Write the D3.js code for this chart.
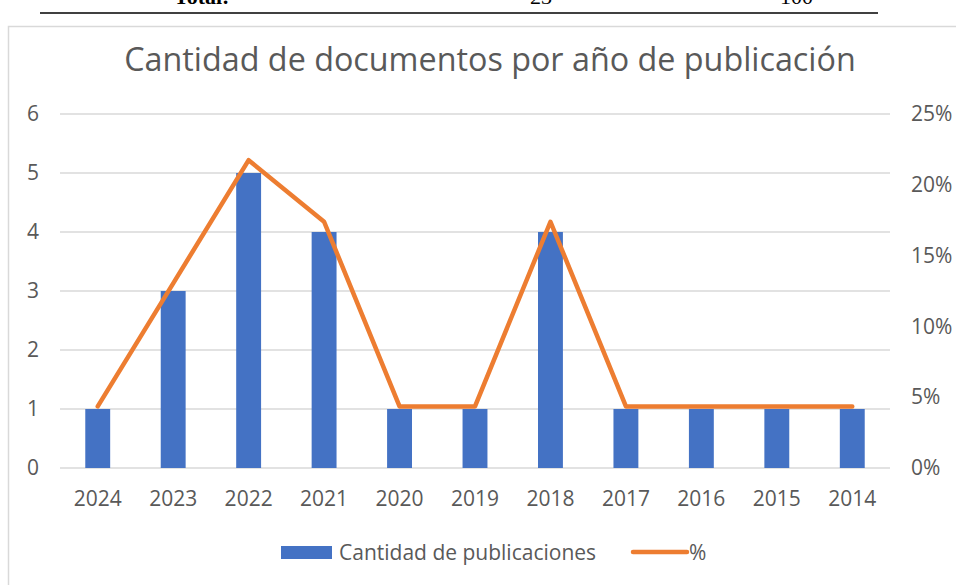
<!DOCTYPE html>
<html lang="es">
<head>
<meta charset="UTF-8">
<script src="https://cdnjs.cloudflare.com/ajax/libs/d3/7.8.5/d3.min.js"></script>
<style>
  body { margin: 0; background: #fff; }
  svg { display: block; }
</style>
</head>
<body>
<script>
// datos
var years = ['2024', '2023', '2022', '2021', '2020', '2019', '2018', '2017', '2016', '2015', '2014'];
var counts = [1, 3, 5, 4, 1, 1, 4, 1, 1, 1, 1];
var percents = [4.35, 13.04, 21.74, 17.39, 4.35, 4.35, 17.39, 4.35, 4.35, 4.35, 4.35];
var leftTicks = [0, 1, 2, 3, 4, 5, 6];
var rightTicks = [0, 5, 10, 15, 20, 25];

(function () {
    var W = 956, H = 585;
    var font = '"Open Sans", "Noto Sans", sans-serif';
    var grey = '#595959';
    var fs = 21;

    var svg = d3.select('body').append('svg')
        .attr('width', W)
        .attr('height', H);

    // resto de la tabla de arriba (cortada)
    var serif = '"Liberation Serif", serif';
    svg.append('text')
        .attr('x', 174).attr('y', 4)
        .attr('font-family', serif)
        .attr('font-weight', 'bold')
        .attr('font-size', 22)
        .text('Total:');
    svg.append('text')
        .attr('x', 530).attr('y', 4)
        .attr('font-family', serif)
        .attr('font-size', 22)
        .text('23');
    svg.append('text')
        .attr('x', 780).attr('y', 4)
        .attr('font-family', serif)
        .attr('font-size', 22)
        .text('100');
    svg.append('line')
        .attr('x1', 40).attr('x2', 878)
        .attr('y1', 13).attr('y2', 13)
        .attr('stroke', '#000').attr('stroke-width', 1.3);

    // marco del grafico
    svg.append('rect')
        .attr('x', 8.5).attr('y', 26.5)
        .attr('width', W).attr('height', H)
        .attr('fill', '#fff')
        .attr('stroke', '#d9d9d9').attr('stroke-width', 1.5);

    svg.append('text')
        .attr('x', 490).attr('y', 71)
        .attr('text-anchor', 'middle')
        .attr('font-family', font)
        .attr('font-size', 32.3)
        .attr('fill', grey)
        .text('Cantidad de documentos por año de publicación');

    var mLeft = 60, mRight = 890, mTop = 114, mBottom = 468;

    var x = d3.scaleBand()
        .domain(years)
        .range([mLeft, mRight])
        .paddingInner(0.67)
        .paddingOuter(0.335);

    var band = d3.scaleBand().domain(years).range([mLeft, mRight]);

    var y = d3.scaleLinear().domain([0, 6]).range([mBottom, mTop]);
    var y2 = d3.scaleLinear().domain([0, 25]).range([mBottom, mTop]);

    // lineas de cuadricula
    svg.append('g')
        .selectAll('line')
        .data(leftTicks)
        .enter().append('line')
        .attr('x1', mLeft).attr('x2', mRight)
        .attr('y1', function (d) { return y(d); })
        .attr('y2', function (d) { return y(d); })
        .attr('stroke', '#d9d9d9')
        .attr('stroke-width', 1.5);

    // eje izquierdo
    var yAxis = svg.append('g')
        .attr('transform', 'translate(' + (mLeft - 21) + ',0)')
        .call(d3.axisLeft(y).tickValues(leftTicks).tickSize(0).tickPadding(0)
            .tickFormat(d3.format('d')));
    yAxis.select('.domain').remove();
    yAxis.selectAll('text')
        .attr('font-family', font).attr('font-size', fs).attr('fill', grey);

    // eje derecho
    var y2Axis = svg.append('g')
        .attr('transform', 'translate(' + (mRight + 21) + ',0)')
        .call(d3.axisRight(y2).tickValues(rightTicks).tickSize(0).tickPadding(0)
            .tickFormat(function (d) { return d + '%'; }));
    y2Axis.select('.domain').remove();
    y2Axis.selectAll('text')
        .attr('font-family', font).attr('font-size', fs).attr('fill', grey);

    // eje x
    var xAxis = svg.append('g')
        .attr('transform', 'translate(0,' + mBottom + ')')
        .call(d3.axisBottom(band).tickSize(0).tickPadding(23));
    xAxis.select('.domain').remove();
    xAxis.selectAll('text')
        .attr('font-family', font).attr('font-size', fs).attr('fill', grey);

    // barras
    svg.append('g')
        .selectAll('rect')
        .data(counts)
        .enter().append('rect')
        .attr('x', function (d, i) { return x(years[i]); })
        .attr('y', function (d) { return y(d); })
        .attr('width', x.bandwidth())
        .attr('height', function (d) { return mBottom - y(d); })
        .attr('fill', '#4472c4');

    // linea de porcentaje
    var line = d3.line()
        .x(function (d, i) { return band(years[i]) + band.bandwidth() / 2; })
        .y(function (d) { return y2(d); });

    svg.append('path')
        .datum(percents)
        .attr('d', line)
        .attr('fill', 'none')
        .attr('stroke', '#ed7d31')
        .attr('stroke-width', 4.5)
        .attr('stroke-linejoin', 'round')
        .attr('stroke-linecap', 'round');

    // leyenda
    var leg = svg.append('g');
    leg.append('rect')
        .attr('x', 281).attr('y', 546)
        .attr('width', 51).attr('height', 13)
        .attr('fill', '#4472c4');
    leg.append('text')
        .attr('x', 339).attr('y', 560)
        .attr('font-family', font).attr('font-size', fs).attr('fill', grey)
        .text('Cantidad de publicaciones');
    leg.append('line')
        .attr('x1', 633).attr('x2', 687)
        .attr('y1', 552).attr('y2', 552)
        .attr('stroke', '#ed7d31').attr('stroke-width', 4.5)
        .attr('stroke-linecap', 'round');
    leg.append('text')
        .attr('x', 689).attr('y', 560)
        .attr('font-family', font).attr('font-size', fs).attr('fill', grey)
        .text('%');
})();
</script>
</body>
</html>
